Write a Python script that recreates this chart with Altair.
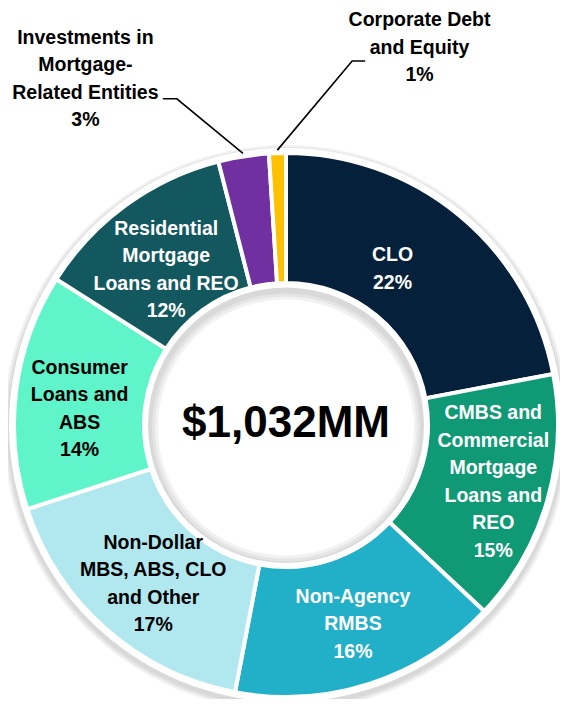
import math
import altair as alt
import pandas as pd

# ---------------- data ----------------
categories = [
    "CLO",
    "CMBS and Commercial Mortgage Loans and REO",
    "Non-Agency RMBS",
    "Non-Dollar MBS, ABS, CLO and Other",
    "Consumer Loans and ABS",
    "Residential Mortgage Loans and REO",
    "Investments in Mortgage-Related Entities",
    "Corporate Debt and Equity",
]
values = [22, 15, 16, 17, 14, 12, 3, 1]
label_text = [
    "CLO\n22%",
    "CMBS and\nCommercial\nMortgage\nLoans and\nREO\n15%",
    "Non-Agency\nRMBS\n16%",
    "Non-Dollar\nMBS, ABS, CLO\nand Other\n17%",
    "Consumer\nLoans and\nABS\n14%",
    "Residential\nMortgage\nLoans and REO\n12%",
    "Investments in\nMortgage-\nRelated Entities\n3%",
    "Corporate Debt\nand Equity\n1%",
]
center_text = "$1,032MM"

# ---------------- styles / layout ----------------
colors = ["#05203A", "#0F9A75", "#22B0C8", "#B1E8F0", "#5FF4CA", "#13585F", "#7030A0", "#FFC000"]
text_colors = ["white", "white", "white", "black", "black", "white", "black", "black"]
FONT = "Liberation Sans, Arial, sans-serif"
FS, LH = 19.5, 27.5

W, H = 552, 691
CX, CY = 278, 417
R_OUT, R_IN = 272, 142

label_r = [189, 215, 210, 207, 207, 196, 400, 400]
label_nudge_deg = [-5.3, -0.8, -0.6, -1.5, -2.8, -1.7, -21.1, 21.3]
# leader lines for outer labels: (index, elbow radius, elbow angle, tail dx)
leaders = [(6, 344, 341.5, -14), (7, 370, 10.3, 13)]

total = sum(values)
cum = 0
mid_deg = []
for v in values:
    mid_deg.append((cum + v / 2) / total * 360)
    cum += v


def polar(r, deg):
    a = math.radians(deg)
    return CX + r * math.sin(a), CY - r * math.cos(a)


df = pd.DataFrame({"category": categories, "value": values, "idx": list(range(len(values)))})

lx, ly = [], []
for i in range(len(values)):
    x, y = polar(label_r[i], mid_deg[i] + label_nudge_deg[i])
    n_lines = label_text[i].count("\n") + 1
    lx.append(x)
    ly.append(y - (n_lines - 1) * LH / 2)
labels_df = pd.DataFrame({"label": label_text, "lx": lx, "ly": ly, "tc": text_colors})

rows = []
for idx, er, ed, tail in leaders:
    x0, y0 = polar(275, mid_deg[idx])
    x1, y1 = polar(er, ed)
    rows += [
        {"k": categories[idx], "p": 0, "x": x0, "y": y0},
        {"k": categories[idx], "p": 1, "x": x1, "y": y1},
        {"k": categories[idx], "p": 2, "x": x1 + tail, "y": y1},
    ]
lead_df = pd.DataFrame(rows)

one = pd.DataFrame({"a": [0]})
TAU = 2 * math.pi


def ring(r, r2, color, opacity, dy=0):
    return alt.Chart(one).mark_arc().encode(
        theta=alt.value(0), theta2=alt.value(TAU),
        radius=alt.value(r), radius2=alt.value(r2),
        x=alt.value(CX), y=alt.value(CY + dy),
        color=alt.value(color), opacity=alt.value(opacity),
    )


shadow_layers = [ring(r, 0, "#000000", 0.05, 3) for r in (283, 281, 279)]
white_disc = ring(277, 0, "white", 1)

slices = alt.Chart(df).mark_arc(radius=R_OUT, radius2=R_IN, stroke="white", strokeWidth=4).encode(
    theta=alt.Theta("value:Q", stack=True),
    color=alt.Color("category:N", scale=alt.Scale(domain=categories, range=colors), legend=None),
    order=alt.Order("idx:Q"),
    x=alt.value(CX), y=alt.value(CY),
)

inner_shadow = [ring(140, r2, "#000000", 0.05, 2.5) for r2 in (134, 131, 128)]
inner_white = ring(143, 138, "white", 1)

labels = alt.Chart(labels_df).mark_text(
    lineBreak="\n", fontSize=FS, lineHeight=LH, fontWeight="bold", font=FONT,
    align="center", baseline="middle",
).encode(
    x=alt.X("lx:Q", scale=None, axis=None),
    y=alt.Y("ly:Q", scale=None, axis=None),
    text="label:N",
    color=alt.Color("tc:N", scale=None),
)

lines = alt.Chart(lead_df).mark_line(color="black", strokeWidth=1.6).encode(
    x=alt.X("x:Q", scale=None, axis=None),
    y=alt.Y("y:Q", scale=None, axis=None),
    detail="k:N",
    order="p:Q",
)

center = alt.Chart(pd.DataFrame({"t": [center_text]})).mark_text(
    fontSize=44, fontWeight="bold", font=FONT, align="center", baseline="alphabetic", color="black",
).encode(text="t:N", x=alt.value(CX), y=alt.value(429))

chart = alt.layer(
    *shadow_layers, white_disc, slices, *inner_shadow, inner_white, lines, labels, center
).properties(width=W, height=H, padding=0, autosize="none").configure_view(stroke=None)

chart.save("out.html", embed_options={"renderer": "svg", "actions": False})
